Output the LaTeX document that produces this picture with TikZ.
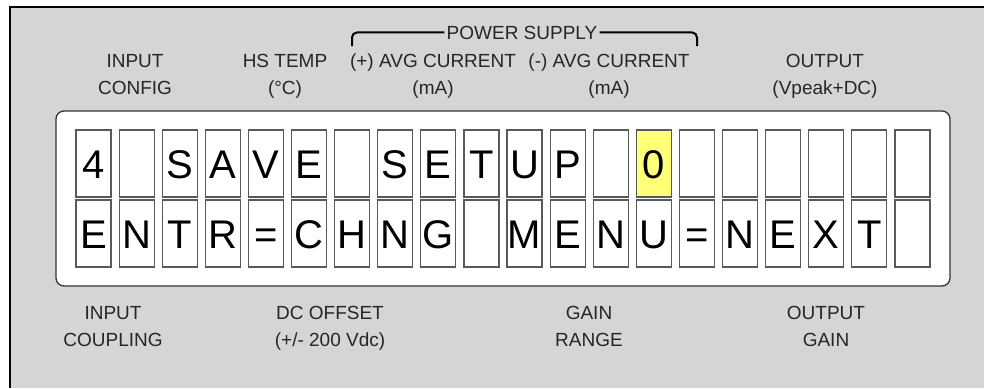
\documentclass[tikz,border=0pt]{standalone}
\usepackage{fontspec}
\setmainfont{Liberation Sans}
\usetikzlibrary{positioning}
\definecolor{panelgray}{RGB}{212,213,213}
\definecolor{cellyellow}{RGB}{255,255,120}
\colorlet{cellline}{black!65}
\colorlet{labeltext}{black!85}
\tikzset{
  lcdcell/.style={draw=cellline,line width=1.2pt,minimum width=35pt,minimum height=67pt,
    inner sep=0pt,text height=29pt,text depth=0pt,font=\fontsize{40}{40}\selectfont},
  panellabel/.style={align=center,inner sep=0pt,text=labeltext,font=\fontsize{19}{27}\selectfont},
}

\begin{document}
\begin{tikzpicture}[x=1pt,y=-1pt]
\useasboundingbox (0,0) rectangle (984,388);
% front panel
\fill[panelgray] (10,7) rectangle (984,388);
\draw[line width=2pt] (984,7) -- (10,7) -- (10,388);
% display window
\draw[fill=white,draw=black!80,line width=1.3pt,rounded corners=8pt] (56,111) rectangle (950,286);
% two rows of 20 character cells
\foreach \ch [count=\i from 0] in {4,{},S,A,V,E,{},S,E,T,U,P,{},0,{},{},{},{},{},{}}{
  \edef\cellfill{\ifnum\i=13 cellyellow\else white\fi}
  \node[lcdcell,fill=\cellfill] (top\i) at ({93.5+43.1*\i},163.5) {\ch};
}
\foreach \ch [count=\i from 0] in {E,N,T,R,=,C,H,N,G,{},M,E,N,U,=,N,E,X,T,{}}
  \node[lcdcell,fill=white] (bot\i) at ({93.5+43.1*\i},233.5) {\ch};
% labels above the display (base = last line)
\node[panellabel,anchor=base] (inconf) at (135,94) {INPUT\\CONFIG};
\node[panellabel,anchor=base] (hstemp) at (285,94) {HS TEMP\\(°C)};
\node[panellabel,anchor=base] (poscur) at (433,94) {(+) AVG CURRENT\\(mA)};
\node[panellabel,anchor=base] (negcur) at (609,94) {(-) AVG CURRENT\\(mA)};
\node[panellabel,anchor=base] (outvpk) at (825,94) {OUTPUT\\(Vpeak+DC)};
\node[panellabel,anchor=base,inner sep=2pt] (psu) at (522,39) {POWER SUPPLY};
\coordinate (psuL) at (352,46);
\coordinate (psuR) at (697,46);
\draw[line width=2pt,rounded corners=5pt] (psu.west) -| (psuL);
\draw[line width=2pt,rounded corners=5pt] (psu.east) -| (psuR);
% labels below the display
\node[panellabel,anchor=base] (incoup) at (113,346) {INPUT\\COUPLING};
\node[panellabel,anchor=base] (dcoff) at (330,346) {DC OFFSET\\(+/- 200 Vdc)};
\node[panellabel,anchor=base] (gainrng) at (589,346) {GAIN\\RANGE};
\node[panellabel,anchor=base] (outgain) at (826,346) {OUTPUT\\GAIN};
\end{tikzpicture}
\end{document}
